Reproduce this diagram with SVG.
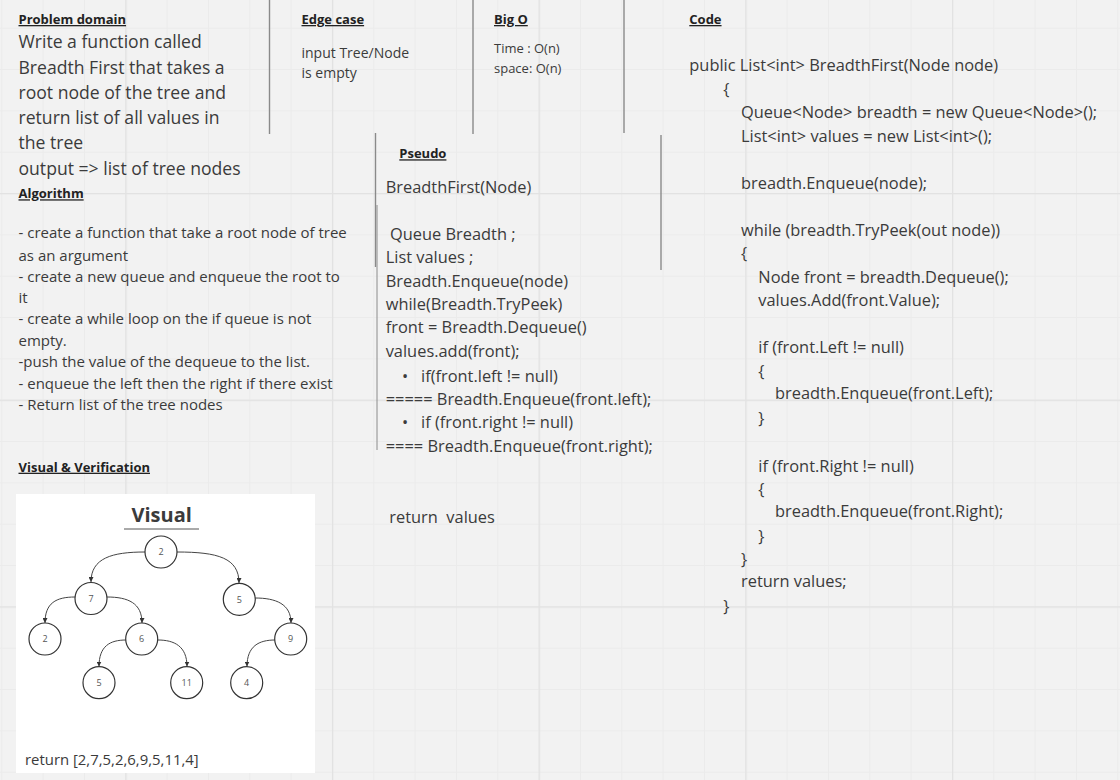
<svg xmlns="http://www.w3.org/2000/svg" width="1120" height="780" viewBox="0 0 1120 780">
<defs>
<pattern id="minor" patternUnits="userSpaceOnUse" x="1.3" y="27.7" width="41.333" height="41.333">
<rect x="0" y="0" width="41.333" height="1" fill="#ebebeb"/>
<rect x="0" y="0" width="1" height="41.333" fill="#ebebeb"/>
</pattern>
<pattern id="major" patternUnits="userSpaceOnUse" x="125.3" y="193" width="206.667" height="206.667">
<rect x="0" y="0" width="206.667" height="1.3" fill="#e2e2e2"/>
<rect x="0" y="0" width="1.3" height="206.667" fill="#e2e2e2"/>
</pattern>
<marker id="arr" viewBox="0 0 10 10" refX="10" refY="5" markerWidth="5" markerHeight="5" orient="auto" markerUnits="userSpaceOnUse">
<path d="M0,0 L10,5 L0,10 z" fill="#333"/>
</marker>
</defs>
<style>
text { font-family: "Open Sans", "Noto Sans", "Liberation Sans", sans-serif; fill: #3b3b3b; }
.h { font-weight: 700; font-size: 13px; fill: #222; text-decoration: underline; }
.big { font-size: 17.6px; }
.alg { font-size: 15px; }
.sm { font-size: 13px; }
.edge { font-size: 14px; }
.code { font-size: 16.4px; }
.div { stroke: #8a8a8a; stroke-width: 1.4; }
.nd circle { fill: #fff; stroke: #333; stroke-width: 1.2; }
.nd text { font-size: 9px; fill: #555; text-anchor: middle; }
.cn path { fill: none; stroke: #444; stroke-width: 1; marker-end: url(#arr); }
</style>
<rect x="0" y="0" width="1120" height="780" fill="#f2f2f2"/>
<rect x="0" y="0" width="1120" height="780" fill="url(#minor)"/>
<rect x="0" y="0" width="1120" height="780" fill="url(#major)"/>

<g id="dividers">
<line class="div" x1="269.5" y1="0" x2="269.5" y2="134"/>
<line class="div" x1="473" y1="0" x2="473" y2="134"/>
<line class="div" x1="624" y1="0" x2="624" y2="133"/>
<line class="div" x1="375.5" y1="133" x2="375.5" y2="267"/>
<line class="div" x1="377" y1="205" x2="377" y2="450" stroke-opacity="0.7"/>
<line class="div" x1="661" y1="135" x2="661" y2="270"/>
</g>

<g id="problem-domain">
<text class="h" x="18.5" y="24">Problem domain</text>
<text class="big" x="18.5" y="48.3">Write a function called</text>
<text class="big" x="18.5" y="73.5">Breadth First that takes a</text>
<text class="big" x="18.5" y="98.7">root node of the tree and</text>
<text class="big" x="18.5" y="124">return list of all values in</text>
<text class="big" x="18.5" y="149">the tree</text>
<text class="big" x="18.5" y="174.7">output =&gt; list of tree nodes</text>
</g>

<g id="algorithm">
<text class="h" x="18.5" y="198.3">Algorithm</text>
<text class="alg" x="18.5" y="238.3">- create a function that take a root node of tree</text>
<text class="alg" x="18.5" y="260.7">as an argument</text>
<text class="alg" x="18.5" y="281.7">- create a new queue and enqueue the root to</text>
<text class="alg" x="18.5" y="303.3">it</text>
<text class="alg" x="18.5" y="324">- create a while loop on the if queue is not</text>
<text class="alg" x="18.5" y="346">empty.</text>
<text class="alg" x="18.5" y="367.3">-push the value of the dequeue to the list.</text>
<text class="alg" x="18.5" y="389">- enqueue the left then the right if there exist</text>
<text class="alg" x="18.5" y="410">- Return list of the tree nodes</text>
</g>

<g id="edge-case">
<text class="h" x="301.5" y="24">Edge case</text>
<text class="edge" x="301.5" y="58.3">input Tree/Node</text>
<text class="edge" x="301.5" y="77.7">is empty</text>
</g>

<g id="big-o">
<text class="h" x="494" y="24">Big O</text>
<text class="sm" x="494" y="53.3">Time : O(n)</text>
<text class="sm" x="494" y="72.7">space: O(n)</text>
</g>

<g id="pseudo">
<text class="h" x="399.3" y="158.3">Pseudo</text>
<text class="code" x="385.7" y="193.3">BreadthFirst(Node)</text>
<text class="code" x="385.7" y="240" xml:space="preserve"> Queue Breadth ;</text>
<text class="code" x="385.7" y="263.3">List values ;</text>
<text class="code" x="385.7" y="286.7">Breadth.Enqueue(node)</text>
<text class="code" x="385.7" y="310">while(Breadth.TryPeek)</text>
<text class="code" x="385.7" y="333.3">front = Breadth.Dequeue()</text>
<text class="code" x="385.7" y="356.7">values.add(front);</text>
<text class="code" x="402" y="381.7">•</text>
<text class="code" x="421" y="381.7">if(front.left != null)</text>
<text class="code" x="385.7" y="405">===== Breadth.Enqueue(front.left);</text>
<text class="code" x="402" y="428.3">•</text>
<text class="code" x="421" y="428.3">if (front.right != null)</text>
<text class="code" x="385.7" y="451.7">==== Breadth.Enqueue(front.right);</text>
<text class="code" x="389.3" y="522.7" xml:space="preserve">return  values</text>
</g>

<g id="code">
<text class="h" x="689.3" y="24">Code</text>
<text class="code" x="689.3" y="70.7">public List&lt;int&gt; BreadthFirst(Node node)</text>
<text class="code" x="723.3" y="95">{</text>
<text class="code" x="741" y="118.3">Queue&lt;Node&gt; breadth = new Queue&lt;Node&gt;();</text>
<text class="code" x="741" y="141.7">List&lt;int&gt; values = new List&lt;int&gt;();</text>
<text class="code" x="741" y="189.3">breadth.Enqueue(node);</text>
<text class="code" x="741" y="236">while (breadth.TryPeek(out node))</text>
<text class="code" x="741" y="259">{</text>
<text class="code" x="758.3" y="283.3">Node front = breadth.Dequeue();</text>
<text class="code" x="758.3" y="306">values.Add(front.Value);</text>
<text class="code" x="758.3" y="352.7">if (front.Left != null)</text>
<text class="code" x="758.3" y="377">{</text>
<text class="code" x="775" y="399.3">breadth.Enqueue(front.Left);</text>
<text class="code" x="758.3" y="424">}</text>
<text class="code" x="758.3" y="471.7">if (front.Right != null)</text>
<text class="code" x="758.3" y="495">{</text>
<text class="code" x="775" y="517.3">breadth.Enqueue(front.Right);</text>
<text class="code" x="758.3" y="541.7">}</text>
<text class="code" x="741" y="565">}</text>
<text class="code" x="741" y="587.3">return values;</text>
<text class="code" x="723.3" y="611.7">}</text>
</g>

<g id="visual-verification">
<text class="h" x="18.5" y="471.7">Visual &amp; Verification</text>
<rect x="16" y="494" width="299" height="279" fill="#ffffff"/>
<text x="161.7" y="521.5" font-size="20" font-weight="700" fill="#333" text-anchor="middle">Visual</text>
<line x1="124" y1="529" x2="199" y2="529" stroke="#555" stroke-width="1"/>
<text x="25" y="765" font-size="14.9">return [2,7,5,2,6,9,5,11,4]</text>
</g>

<g id="connectors" class="cn">
<path d="M145,552 C112,552 91,558 91,582"/>
<path d="M177,552 C218,552 239,558 239,583"/>
<path d="M75,597 C56,597 45,603 45,623"/>
<path d="M107,597 C128,597 142,603 142,623"/>
<path d="M255,598 C276,598 291,604 291,623"/>
<path d="M126,640 C110,640 99,646 99,666.5"/>
<path d="M158,640 C174,640 187,646 187,666.5"/>
<path d="M275,640 C259,640 247,646 247,666.5"/>
</g>

<g id="n-root" class="nd"><circle cx="161" cy="552" r="16"/><text x="161" y="555.2">2</text></g>
<g id="n-7" class="nd"><circle cx="91" cy="598.5" r="16"/><text x="91" y="601.7">7</text></g>
<g id="n-5a" class="nd"><circle cx="239.3" cy="599.3" r="16"/><text x="239.3" y="602.5">5</text></g>
<g id="n-2b" class="nd"><circle cx="45" cy="639" r="16"/><text x="45" y="642.2">2</text></g>
<g id="n-6" class="nd"><circle cx="141.7" cy="639" r="16"/><text x="141.7" y="642.2">6</text></g>
<g id="n-9" class="nd"><circle cx="290.7" cy="639" r="16"/><text x="290.7" y="642.2">9</text></g>
<g id="n-5b" class="nd"><circle cx="99" cy="682.7" r="16"/><text x="99" y="685.9">5</text></g>
<g id="n-11" class="nd"><circle cx="186.7" cy="682.7" r="16"/><text x="186.7" y="685.9">11</text></g>
<g id="n-4" class="nd"><circle cx="246.7" cy="682.7" r="16"/><text x="246.7" y="685.9">4</text></g>
</svg>
